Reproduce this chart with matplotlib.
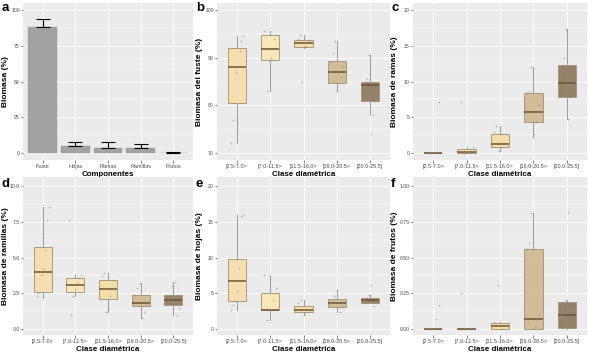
import matplotlib
matplotlib.use("Agg")
import matplotlib.pyplot as plt
import numpy as np

plt.rcParams["font.family"] = ["Liberation Sans", "DejaVu Sans"]

# ---------------- data ----------------
componentes = ["Fuste", "Hojas", "Ramas", "Ramillas", "Frutos"]
biomasa_media = [88.0, 5.0, 3.5, 3.2, 0.3]
biomasa_sd = [6.0, 3.0, 4.5, 3.3, 0.5]

clases = ["[2.5-7.0>", "[7.0-11.5>", "[11.5-16.0>", "[16.0-20.5>", "[20.0-25.5]"]

# box stats per class: (whislo, q1, med, q3, whishi)
fuste_box = [(72.0, 80.5, 88.0, 92.0, 94.5), (83.0, 89.5, 91.8, 94.7, 95.5),
             (92.0, 92.3, 93.0, 93.8, 94.7), (83.0, 84.7, 87.0, 89.3, 93.5),
             (78.0, 81.0, 84.2, 85.0, 90.5)]
ramas_box = [(0.0, 0.0, 0.0, 0.0, 0.0), (0.0, 0.0, 0.1, 0.6, 0.8),
             (0.3, 0.8, 1.3, 2.6, 3.8), (2.3, 4.3, 5.8, 8.4, 12.0),
             (4.8, 7.8, 9.8, 12.3, 17.4)]
ramillas_box = [(2.2, 2.6, 4.0, 5.7, 8.5), (2.3, 2.6, 3.1, 3.6, 3.8),
                (1.2, 2.1, 2.8, 3.4, 3.9), (0.8, 1.6, 1.8, 2.4, 3.2),
                (1.0, 1.7, 2.0, 2.4, 3.3)]
hojas_box = [(2.6, 3.9, 6.7, 9.8, 16.0), (1.2, 2.6, 2.7, 5.0, 7.6),
             (1.9, 2.4, 2.7, 3.2, 4.1), (2.4, 3.1, 3.6, 4.2, 5.5),
             (3.6, 3.7, 4.0, 4.4, 4.7)]
frutos_box = [(0.0, 0.0, 0.0, 0.0, 0.0), (0.0, 0.0, 0.0, 0.0, 0.0),
              (0.0, 0.0, 0.02, 0.04, 0.05), (0.0, 0.0, 0.07, 0.56, 0.81),
              (0.0, 0.01, 0.1, 0.19, 0.2)]

# observed points per class
fuste_pts = [[94.5, 93.5, 91.5, 88, 87, 80.5, 77, 72],
             [95.5, 94.7, 94, 90, 89.5, 83],
             [94.7, 94, 93.5, 93, 92.5, 92.2, 85],
             [93.5, 91, 89, 88, 86, 84.7, 83],
             [90.5, 85.5, 85, 84, 83.5, 81, 78, 74]]
ramas_pts = [[7.1, 0, 0, 0, 0],
             [7.2, 0.8, 0.6, 0.1, 0, 0],
             [3.8, 3.0, 2.6, 1.3, 0.8, 0.3],
             [12, 8.7, 8.4, 6.7, 5.8, 4.3, 2.7, 2.3],
             [17.4, 13.3, 12.3, 11, 9.8, 8.5, 7.8, 4.8]]
ramillas_pts = [[8.5, 7.6, 5.5, 4.2, 3.8, 2.6, 2.5, 2.3],
                [7.6, 3.8, 3.6, 3.3, 2.8, 2.3, 1.0],
                [3.9, 3.7, 3.4, 2.8, 2.3, 1.5, 1.2],
                [3.2, 2.9, 2.4, 1.8, 1.2, 0.8],
                [3.3, 3.0, 2.4, 2.0, 1.5, 1.0]]
hojas_pts = [[16, 15.8, 8.6, 5.3, 3.9, 3.3, 2.6],
             [7.6, 5.7, 4.0, 2.7, 1.2],
             [4.1, 3.6, 2.7, 2.4, 1.9],
             [5.5, 4.6, 3.6, 3.1, 2.4],
             [6.2, 4.7, 4.3, 4.0, 3.7, 3.2]]
frutos_pts = [[0.17, 0.07, 0, 0, 0],
              [0.25, 0, 0, 0],
              [0.31, 0.05, 0.02, 0],
              [0.81, 0.6, 0.56, 0.1, 0.07, 0.02, 0],
              [0.82, 0.2, 0.17, 0.1, 0.02, 0.01]]

# ---------------- style ----------------
W, H = 589, 356
fig = plt.figure(figsize=(W / 100, H / 100), dpi=100)
fig.patch.set_facecolor("white")

box_colors = ["#F8DEAE", "#FCE6B6", "#F4DEA6", "#CFBA92", "#8E7D62"]
edge_col = "#A8967A"
med_col = "#6B5433"
panel_bg = "#EBEBEB"
tick_col = "#4D4D4D"
YL_FS = 6.0
XL_FS = 5.7
XTK_FS = 4.0
YTK_FS = 3.7


def px_axes(x0, y0, x1, y1):
    return fig.add_axes([x0 / W, 1 - y1 / H, (x1 - x0) / W, (y1 - y0) / H])


def style(ax, yticks, yticklabels, ylim, minor):
    ax.set_facecolor(panel_bg)
    for s in ax.spines.values():
        s.set_visible(False)
    ax.set_ylim(*ylim)
    ax.set_yticks(yticks)
    ax.set_yticklabels(yticklabels)
    ax.set_yticks(minor, minor=True)
    ax.grid(True, which="major", color="white", linewidth=0.7)
    ax.grid(True, which="minor", axis="y", color="white", linewidth=0.35)
    ax.set_axisbelow(True)
    ax.tick_params(axis="x", which="major", labelsize=XTK_FS, colors=tick_col,
                   length=2, width=0.5, pad=1.0)
    ax.tick_params(axis="y", which="major", labelsize=YTK_FS, colors=tick_col,
                   length=1.8, width=0.5, pad=0.5)
    ax.tick_params(axis="y", which="minor", length=0)
    ax.set_xlim(0.4, 5.6)


def set_ylabel(ax, text, rect, xlab):
    # xlab: pixel x of the right edge of the rotated label
    x0, y0, x1, y1 = rect
    ax.set_ylabel(text, fontsize=YL_FS, fontweight="bold")
    ax.yaxis.set_label_coords((xlab - x0) / (x1 - x0), 0.5)


def letter(x, y, t):
    fig.text(x / W, 1 - y / H, t, fontsize=9.5, fontweight="bold",
             ha="left", va="center", color="black")


def boxpanel(rect, boxes, pts, ylabel, yticks, yticklabels, ylim, minor, xlab):
    ax = px_axes(*rect)
    style(ax, yticks, yticklabels, ylim, minor)
    stats = []
    for (lo, q1, med, q3, hi) in boxes:
        stats.append(dict(whislo=lo, q1=q1, med=med, q3=q3, whishi=hi, fliers=[]))
    pos = np.arange(1, 6)
    bp = ax.bxp(stats, positions=pos, widths=0.55, patch_artist=True,
                showcaps=False,
                boxprops=dict(linewidth=0.7, edgecolor=edge_col),
                whiskerprops=dict(linewidth=0.7, color="#9A9A9A"),
                medianprops=dict(linewidth=1.1, color=med_col))
    for patch, c in zip(bp["boxes"], box_colors):
        patch.set_facecolor(c)
        patch.set_alpha(0.95)
        patch.set_edgecolor(edge_col)
    for i, vals in enumerate(pts):
        n = len(vals)
        off = np.linspace(-0.18, 0.18, n)[::-1] if n > 1 else np.zeros(1)
        off = np.roll(off, i)
        ax.scatter(pos[i] + off, vals, s=1.5, color="#8A8A8A", alpha=0.6,
                   linewidths=0, zorder=5)
    ax.set_xticks(pos)
    ax.set_xticklabels(clases)
    set_ylabel(ax, ylabel, rect, xlab)
    ax.set_xlabel("Clase diamétrica", fontsize=XL_FS, fontweight="bold", labelpad=1.2)
    return ax


# ---------------- panel a ----------------
rect_a = (23, 3, 193, 160)
axa = px_axes(*rect_a)
style(axa, [0, 25, 50, 75, 100], ["0", "25", "50", "75", "100"], (-4.9, 104.9),
      [12.5, 37.5, 62.5, 87.5])
xa = np.arange(1, 6)
axa.bar(xa, biomasa_media, width=0.88, color="#A2A2A2", edgecolor="#9A9A9A",
        linewidth=0.3, zorder=3)
axa.errorbar(xa, biomasa_media, yerr=[np.zeros(5), biomasa_sd], fmt="none",
             ecolor="black", elinewidth=0.8, capsize=5, capthick=0.8, zorder=4)
axa.set_xticks(xa)
axa.set_xticklabels(componentes)
set_ylabel(axa, "Biomasa (%)", rect_a, 9.0)
axa.set_xlabel("Componentes", fontsize=XL_FS, fontweight="bold", labelpad=1.2)

# ---------------- box panels ----------------
boxpanel((217, 3, 390, 160), fuste_box, fuste_pts, "Biomasa del fuste (%)",
         [70, 80, 90, 100], ["70", "80", "90", "100"], (68.53, 101.47), [75, 85, 95],
         203.0)
boxpanel((413, 3, 587, 160), ramas_box, ramas_pts, "Biomasa de ramas (%)",
         [0, 5, 10, 15, 20], ["0", "5", "10", "15", "20"], (-0.98, 20.98),
         [2.5, 7.5, 12.5, 17.5], 398.5)
boxpanel((23, 177, 193, 335), ramillas_box, ramillas_pts, "Biomasa de ramillas (%)",
         [0, 2.5, 5, 7.5, 10], ["0.0", "2.5", "5.0", "7.5", "10.0"], (-0.42, 10.63),
         [1.25, 3.75, 6.25, 8.75], 9.0)
boxpanel((217, 177, 390, 335), hojas_box, hojas_pts, "Biomasa de hojas (%)",
         [0, 5, 10, 15, 20], ["0", "5", "10", "15", "20"], (-0.84, 21.26),
         [2.5, 7.5, 12.5, 17.5], 203.0)
boxpanel((413, 177, 587, 335), frutos_box, frutos_pts, "Biomasa de frutos (%)",
         [0, 0.25, 0.5, 0.75, 1.0], ["0.00", "0.25", "0.50", "0.75", "1.00"],
         (-0.042, 1.063), [0.125, 0.375, 0.625, 0.875], 398.5)

letter(2, 8, "a")
letter(196, 8, "b")
letter(391, 8, "c")
letter(2, 184, "d")
letter(196, 184, "e")
letter(391, 184, "f")

fig.savefig("out.png", dpi=100, facecolor="white")
